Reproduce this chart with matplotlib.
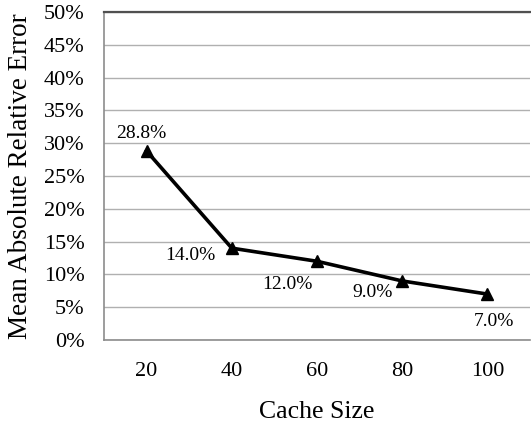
import matplotlib
matplotlib.use("Agg")
import matplotlib.pyplot as plt
from matplotlib.ticker import FuncFormatter

cache_sizes = ["20", "40", "60", "80", "100"]
mare = [28.8, 14.0, 12.0, 9.0, 7.0]
# label offsets in points (dx, dy) relative to each marker
label_offsets = [(-4, 13), (-30, -5), (-21, -16.5), (-21, -8.6), (5, -19.5)]

plt.rcParams["font.family"] = ["Liberation Serif", "DejaVu Serif"]

fig = plt.figure(figsize=(5.31, 4.25), dpi=100)
ax = fig.add_axes([104 / 531, 1 - 340 / 425, 426 / 531, 328 / 425])

x = list(range(len(cache_sizes)))
ax.plot(x, mare, color="black", lw=2.6, marker="^", markersize=9, zorder=3)

for xi, v, (dx, dy) in zip(x, mare, label_offsets):
    ax.annotate(f"{v:.1f}%", (xi, v), xytext=(dx, dy), textcoords="offset points",
                ha="center", va="center", fontsize=14)

ax.set_xlim(-0.5, len(x) - 0.5)
ax.set_ylim(0, 50)
ax.set_xticks(x)
ax.set_xticklabels(cache_sizes)
ax.set_yticks(range(0, 51, 5))
ax.yaxis.set_major_formatter(FuncFormatter(lambda v, _: f"{v:.0f}%"))
ax.tick_params(axis="both", length=0, labelsize=16)
ax.tick_params(axis="x", pad=16)
ax.tick_params(axis="y", pad=14)

ax.grid(axis="y", color="#b0b0b0", lw=1.0)
ax.set_axisbelow(True)
for side in ("left", "bottom"):
    ax.spines[side].set_color("#8c8c8c")
    ax.spines[side].set_linewidth(1.2)
ax.spines["top"].set_color("#505050")
ax.spines["top"].set_linewidth(1.6)
ax.spines["right"].set_visible(False)

ax.set_xlabel("Cache Size", fontsize=18.5, labelpad=14)
ax.set_ylabel("Mean Absolute Relative Error", fontsize=19.5, labelpad=8)

fig.savefig("out.png", dpi=100)
